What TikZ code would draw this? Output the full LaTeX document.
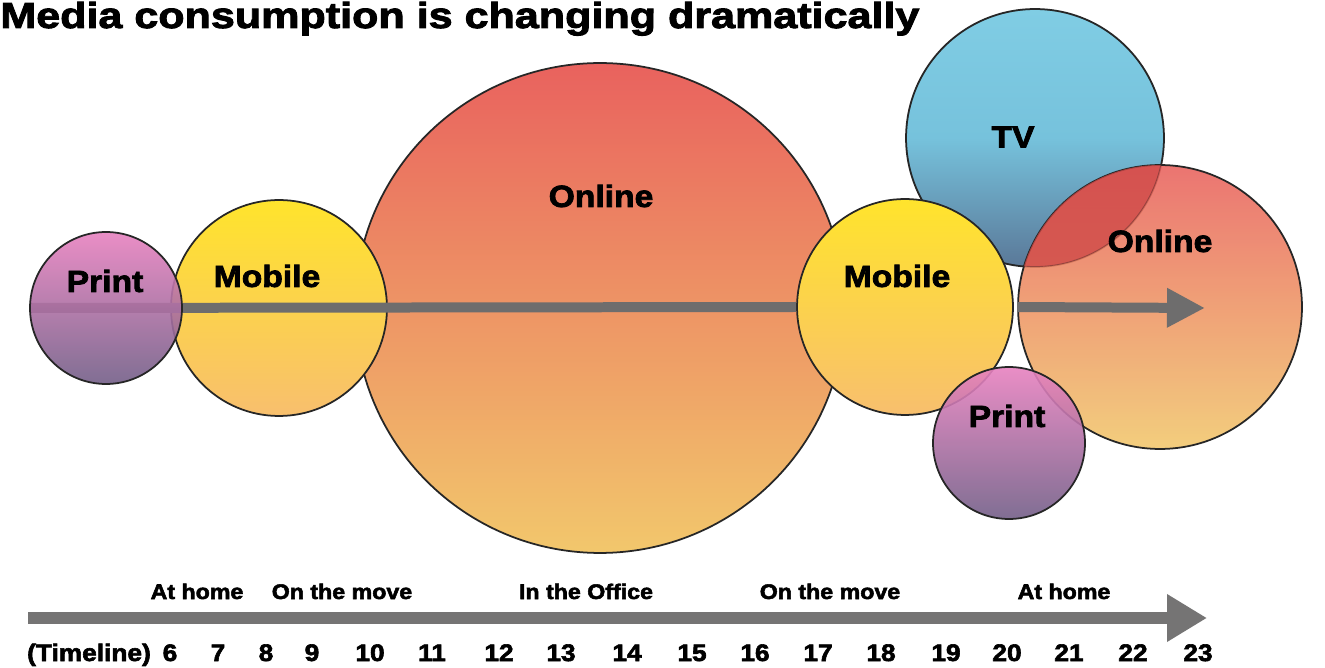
\documentclass[tikz,border=0pt]{standalone}
\usepackage{fontspec}
\usepackage{xcolor}
\usepackage{tikz}
\usetikzlibrary{arrows.meta,shapes}

\newfontfamily\heavyfont[FakeStretch=1.1,FakeBold=2.5]{Liberation Sans Bold}
\newfontfamily\titlefont[FakeStretch=1.19,FakeBold=2.5]{Liberation Sans Bold}

\definecolor{onlinetop}{HTML}{E9625E}
\definecolor{onlinebot}{HTML}{F2C76C}
\definecolor{mobiletop}{HTML}{FFE42C}
\definecolor{mobilebot}{HTML}{F8BF6E}
\definecolor{printtop}{HTML}{E882C0}
\definecolor{printbot}{HTML}{735F88}
\definecolor{tvtop}{HTML}{80CDE4}
\definecolor{tvmid}{HTML}{76C2DC}
\definecolor{tvbot}{HTML}{5A7898}
\definecolor{overlapred}{HTML}{D44A48}
\definecolor{flowgray}{HTML}{6E6D6D}

\begin{document}
\begin{tikzpicture}[x=0.02cm,y=-0.02cm]
      \tikzstyle{bubble}=[circle, draw=black!85, line width=1pt, inner sep=0pt]
      \tikzstyle{online_bubble}=[bubble, top color=onlinetop, bottom color=onlinebot]
      \tikzstyle{mobile_bubble}=[bubble, top color=mobiletop, bottom color=mobilebot, minimum size=4.32cm]
      \tikzstyle{print_bubble}=[bubble, top color=printtop, bottom color=printbot, fill opacity=0.9, minimum size=3.04cm]
      \tikzstyle{tv_bubble}=[bubble, top color=tvtop, bottom color=tvbot, middle color=tvmid, minimum size=5.16cm]
      \tikzstyle{bubble_text}=[inner sep=0pt, font=\heavyfont\fontsize{17.4}{20}\selectfont]
      \tikzstyle{flow}=[draw=flowgray, line width=0.2cm, -{Triangle[length=0.76cm,width=0.74cm]}]
      \tikzstyle{timeline}=[draw=flowgray!95, line width=0.24cm, -{Triangle[length=0.8cm,width=0.9cm]}]
      \tikzstyle{slot_text}=[anchor=base, inner sep=0pt, font=\heavyfont\fontsize{12}{14}\selectfont]
      \tikzstyle{hour_text}=[anchor=base, inner sep=0pt, font=\heavyfont\fontsize{13.6}{16}\selectfont]

      \path[fill=white, use as bounding box] (0,0) rectangle (1325,668);

      \node (title) [anchor=base west, inner sep=0pt, font=\titlefont\fontsize{20.6}{24}\selectfont]
        at (0,28) {Media consumption is changing dramatically};

      % morning and daytime
      \node (bonline) [online_bubble, minimum size=9.8cm] at (600,308) {};
      \node (lmobile) [mobile_bubble] at (279,308) {};
      \node (tv) [tv_bubble] at (1035,138) {};
      \node (ronline) [online_bubble, minimum size=5.68cm, fill opacity=0.88] at (1160,307) {};
      % where online covers tv
      \begin{scope}
        \clip (1035,138) circle [radius=129];
        \fill[overlapred, fill opacity=0.75] (1160,307) circle [radius=142];
        \draw[black!85, line width=1pt, draw opacity=0.35] (1035,138) circle [radius=129];
      \end{scope}
      \node (rmobile) [mobile_bubble] at (905,307) {};

      \draw[draw=flowgray, line width=0.2cm] (30,308) -- (rmobile.west);
      \node (lprint) [print_bubble] at (106,308) {};

      % evening
      \coordinate (flowtip) at (1205,308);
      \draw[flow] (ronline.west) -- (flowtip);
      \node (rprint) [print_bubble] at (1009,443) {};

      \node at (105,281) [bubble_text] {Print};
      \node at (267,276) [bubble_text] {Mobile};
      \node at (601,196) [bubble_text] {Online};
      \node at (897,276) [bubble_text] {Mobile};
      \node at (1013,137) [bubble_text] {TV};
      \node at (1160,241) [bubble_text] {Online};
      \node at (1007,416) [bubble_text] {Print};

      % timeline
      \coordinate (tlstart) at (28,618);
      \coordinate (tlend) at (1207,618);
      \draw[timeline] (tlstart) -- (tlend);

      \node at (197,599) [slot_text] {At home};
      \node at (342,599) [slot_text] {On the move};
      \node at (586,599) [slot_text] {In the Office};
      \node at (830,599) [slot_text] {On the move};
      \node at (1064,599) [slot_text] {At home};

      \node at (89,661) [hour_text] {(Timeline)};
      \foreach \hour/\xpos in {6/170,7/218,8/266,9/312,10/370,11/432,12/499,13/561,14/627,
          15/692,16/755,17/818,18/881,19/946,20/1007,21/1069,22/1133,23/1198}
        \node at (\xpos,661) [hour_text] {\hour};
\end{tikzpicture}
\end{document}
